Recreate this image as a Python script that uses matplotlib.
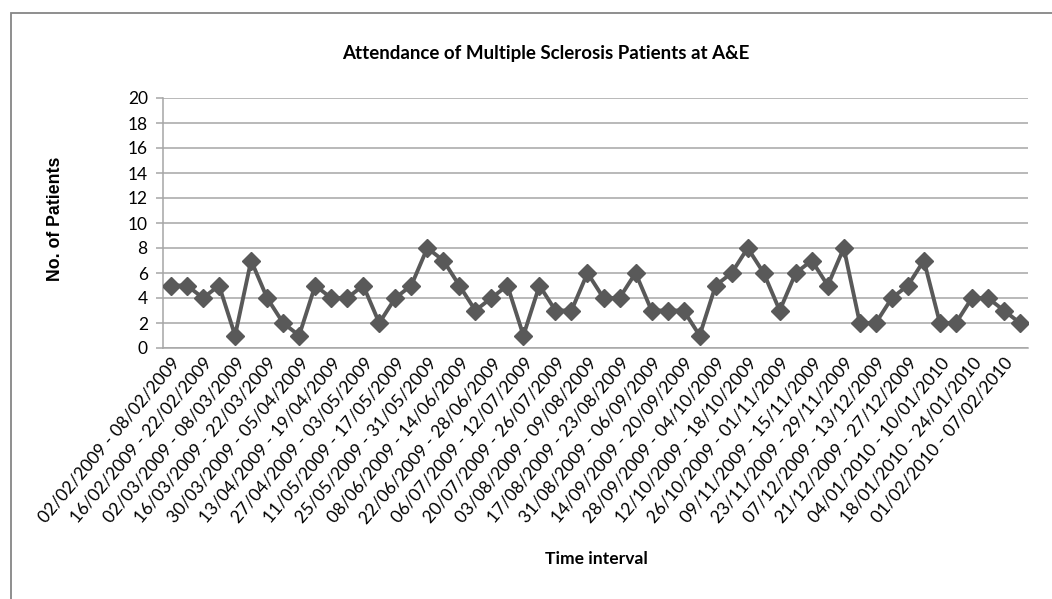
import matplotlib
matplotlib.use("Agg")
from matplotlib import pyplot as plt
from matplotlib.patches import Rectangle
import numpy as np

# weekly counts, 02/02/2009 onwards (54 weeks)
patients = [5, 5, 4, 5, 1, 7, 4, 2, 1, 5, 4, 4, 5, 2, 4, 5, 8, 7,
            5, 3, 4, 5, 1, 5, 3, 3, 6, 4, 4, 6, 3, 3, 3, 1, 5, 6,
            8, 6, 3, 6, 7, 5, 8, 2, 2, 4, 5, 7, 2, 2, 4, 4, 3, 2]

# only every other week is labelled on the axis
week_labels = [
    "02/02/2009 - 08/02/2009", "16/02/2009 - 22/02/2009",
    "02/03/2009 - 08/03/2009", "16/03/2009 - 22/03/2009",
    "30/03/2009 - 05/04/2009", "13/04/2009 - 19/04/2009",
    "27/04/2009 - 03/05/2009", "11/05/2009 - 17/05/2009",
    "25/05/2009 - 31/05/2009", "08/06/2009 - 14/06/2009",
    "22/06/2009 - 28/06/2009", "06/07/2009 - 12/07/2009",
    "20/07/2009 - 26/07/2009", "03/08/2009 - 09/08/2009",
    "17/08/2009 - 23/08/2009", "31/08/2009 - 06/09/2009",
    "14/09/2009 - 20/09/2009", "28/09/2009 - 04/10/2009",
    "12/10/2009 - 18/10/2009", "26/10/2009 - 01/11/2009",
    "09/11/2009 - 15/11/2009", "23/11/2009 - 29/11/2009",
    "07/12/2009 - 13/12/2009", "21/12/2009 - 27/12/2009",
    "04/01/2010 - 10/01/2010", "18/01/2010 - 24/01/2010",
    "01/02/2010 - 07/02/2010",
]
y_ticks = list(range(0, 21, 2))

W, H = 1052, 599
fig = plt.figure(figsize=(W / 100, H / 100), dpi=100)

# outer chart frame (runs off the right and bottom edges)
fig.patches.append(Rectangle((11 / W, -0.1), 1.2, (H - 13) / H + 0.1,
                             transform=fig.transFigure, fill=False,
                             edgecolor="#868686", linewidth=1.3))

ax = fig.add_axes([163 / W, (H - 348) / H, (1028 - 163) / W, (348 - 98) / H])

x = np.arange(len(patients))
ax.plot(x, patients, color="#595959", linewidth=2.8, marker="D",
        markersize=9.5, zorder=3)

ax.set_xlim(-0.5, len(patients) - 0.5)
ax.set_ylim(0, 20)
ax.set_yticks(y_ticks)
ax.grid(axis="y", color="#a6a6a6", linewidth=1.1)
ax.set_axisbelow(True)

for s in ["top", "right"]:
    ax.spines[s].set_visible(False)
for s in ["left", "bottom"]:
    ax.spines[s].set_color("#a6a6a6")
    ax.spines[s].set_linewidth(1.1)

ax.set_xticks(x[::2])
ax.set_xticklabels(week_labels, rotation=50, ha="right", va="top",
                   rotation_mode="anchor", family="Lato", fontsize=12.6)
ax.tick_params(axis="x", length=0, pad=5)
ax.tick_params(axis="y", length=5, color="#a6a6a6", width=1.1,
               labelsize=12.5, pad=6)
for t in ax.get_yticklabels():
    t.set_family("Lato")

fig.text(546 / W, 1 - 53 / H, "Attendance of Multiple Sclerosis Patients at A&E",
         ha="center", va="center", family="Lato", fontweight="bold",
         fontsize=13.5)
fig.text(55 / W, 1 - 219 / H, "No. of Patients", rotation=90, ha="center",
         va="center", family="Liberation Sans", fontweight="bold", fontsize=12.8)
fig.text(596 / W, 1 - 559 / H, "Time interval", ha="center", va="center",
         family="Lato", fontweight="bold", fontsize=12.6)

fig.savefig("out.png", dpi=100)
